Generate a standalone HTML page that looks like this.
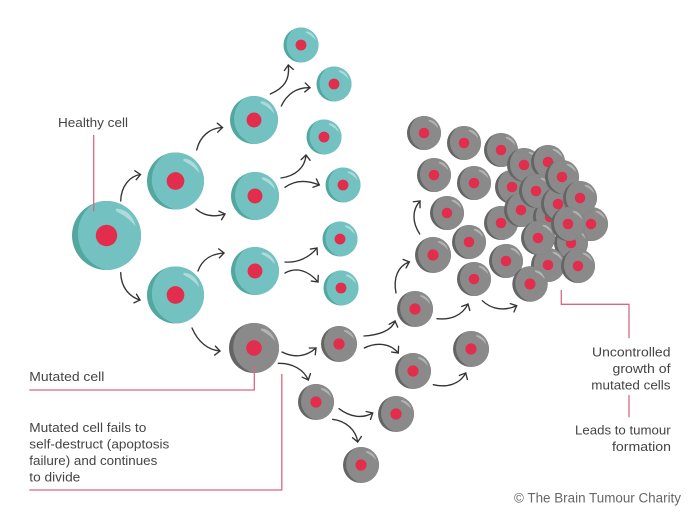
<!DOCTYPE html>
<html><head><meta charset="utf-8"><style>
html,body{margin:0;padding:0;background:#fff}
svg{display:block}
text{font-family:"Liberation Sans",sans-serif;font-size:13px;fill:#444}
.a{fill:none;stroke:#333;stroke-width:1.35;stroke-linecap:round;marker-end:url(#h)}
.p{fill:none;stroke:#d8687f;stroke-width:1.3}
</style></head><body>
<svg width="700" height="520" viewBox="0 0 700 520" xmlns="http://www.w3.org/2000/svg">
<defs>
<marker id="h" markerUnits="userSpaceOnUse" markerWidth="14" markerHeight="14" refX="8" refY="7" orient="auto" overflow="visible">
<path d="M3 2.5L8 7L3 11.5" fill="none" stroke="#333" stroke-width="1.35" stroke-linecap="round"/>
</marker>
<clipPath id="c"><circle r="1"/></clipPath>
<g id="t">
<circle r="1" fill="#52a79f"/>
<circle cx=".25" cy="-.05" r="1.08" fill="#73c2c1" clip-path="url(#c)"/>
<path d="M.28-.78C.6-.78.8-.5.84-.27C.65-.5.45-.62.28-.7Z" fill="#fff" fill-opacity=".42"/>
<circle r=".31" fill="#e32d4c"/>
</g>
<g id="g">
<circle r="1" fill="#656565"/>
<circle cx=".25" cy="-.05" r="1.08" fill="#8a8a8b" clip-path="url(#c)"/>
<path d="M.28-.78C.6-.78.8-.5.84-.27C.65-.5.45-.62.28-.7Z" fill="#fff" fill-opacity=".35"/>
<circle r=".31" fill="#e32d4c"/>
</g>
</defs>

<!-- teal cells -->
<use href="#t" transform="translate(106.5 235.5) scale(34.5)"/>
<use href="#t" transform="translate(175.5 181) scale(28.5)"/>
<use href="#t" transform="translate(175.5 295) scale(28.5)"/>
<use href="#t" transform="translate(254 120) scale(24)"/>
<use href="#t" transform="translate(255 196) scale(24)"/>
<use href="#t" transform="translate(255 271) scale(24)"/>
<use href="#t" transform="translate(301 45) scale(17.5)"/>
<use href="#t" transform="translate(334 84) scale(17.5)"/>
<use href="#t" transform="translate(324 137) scale(17.5)"/>
<use href="#t" transform="translate(343 185) scale(17.5)"/>
<use href="#t" transform="translate(340 239) scale(17.5)"/>
<use href="#t" transform="translate(341 288) scale(17.5)"/>

<!-- gray dividing cells -->
<use href="#g" transform="translate(254 348) scale(25)"/>
<use href="#g" transform="translate(339 344) scale(18)"/>
<use href="#g" transform="translate(415 309) scale(18)"/>
<use href="#g" transform="translate(413 371) scale(18)"/>
<use href="#g" transform="translate(471 349) scale(18)"/>
<use href="#g" transform="translate(396 414) scale(18)"/>
<use href="#g" transform="translate(316 402) scale(18)"/>
<use href="#g" transform="translate(361 465) scale(18)"/>

<!-- tumour cluster -->
<use href="#g" transform="translate(424 133) scale(17)"/>
<use href="#g" transform="translate(464 143) scale(17)"/>
<use href="#g" transform="translate(434 175) scale(17)"/>
<use href="#g" transform="translate(474 183) scale(17)"/>
<use href="#g" transform="translate(447 213) scale(17)"/>
<use href="#g" transform="translate(469 242) scale(17)"/>
<use href="#g" transform="translate(433 255) scale(18)"/>
<use href="#g" transform="translate(474 279) scale(17)"/>
<use href="#g" transform="translate(501 150) scale(17)"/>
<use href="#g" transform="translate(501 223) scale(17)"/>
<use href="#g" transform="translate(506 261) scale(17)"/>
<use href="#g" transform="translate(512 187) scale(17)"/>
<use href="#g" transform="translate(524 165) scale(17)"/>
<use href="#g" transform="translate(548 162) scale(17)"/>
<use href="#g" transform="translate(521 210) scale(17)"/>
<use href="#g" transform="translate(550 217) scale(17)"/>
<use href="#g" transform="translate(536 191) scale(17)"/>
<use href="#g" transform="translate(558 204) scale(17)"/>
<use href="#g" transform="translate(562 177) scale(17)"/>
<use href="#g" transform="translate(591 224) scale(17)"/>
<use href="#g" transform="translate(580 198) scale(17)"/>
<use href="#g" transform="translate(571 243) scale(17)"/>
<use href="#g" transform="translate(548 265) scale(17)"/>
<use href="#g" transform="translate(538 238) scale(17)"/>
<use href="#g" transform="translate(568 224) scale(17)"/>
<use href="#g" transform="translate(578 266) scale(17)"/>
<use href="#g" transform="translate(530 284) scale(17.7)"/>

<!-- arrows -->
<path class="a" d="M120.7 201C121 186 130 176 140.5 174.5"/>
<path class="a" d="M120.7 272.7C121 288 130 297 140 300"/>
<path class="a" d="M196.7 150C200 136 210 128 222.5 127.5"/>
<path class="a" d="M196 209C203 215 212 218 225 214"/>
<path class="a" d="M198 271C202 260 210 254 224 253"/>
<path class="a" d="M192 328C198 342 208 350 220 351"/>
<path class="a" d="M270.3 94C284 88 290 80 288.3 65"/>
<path class="a" d="M281.3 106C287 94 297 87 310 87.7"/>
<path class="a" d="M281 178C295 176 305 168 306 155"/>
<path class="a" d="M285 187.3C295 180 307 180 319.3 185"/>
<path class="a" d="M285 262C297 263 309 258 317 248"/>
<path class="a" d="M285 273C296 267 308 270 318 282"/>
<path class="a" d="M282 352C294 358 306 357 316 348"/>
<path class="a" d="M278.3 363.3C293 363 304 370 308.3 380"/>
<path class="a" d="M364 336C380 335 392 330 395 321"/>
<path class="a" d="M364.3 348C376 342 390 343 398.3 353"/>
<path class="a" d="M433.3 384.7C447 388 460 384 465.7 373"/>
<path class="a" d="M339 408.7C350 417 362 419 372.7 413"/>
<path class="a" d="M332.7 419.3C346 421 356 430 357.7 442"/>
<path class="a" d="M437 318.7C450 320 462 316 468 304"/>
<path class="a" d="M396 293C393 278 398 266 409.3 262"/>
<path class="a" d="M419.7 234C412 222 412 210 420 201"/>
<path class="a" d="M482.3 300.7C492 310 505 311 516.7 305.7"/>

<!-- leader lines -->
<path class="p" d="M93.7 135V211.5"/>
<path class="p" d="M29.3 390H254.3V366"/>
<path class="p" d="M29.3 490H281.8V374"/>
<path class="p" d="M561.3 290V304.3H629V338.3"/>
<path class="p" d="M629 395V417.3"/>

<!-- labels -->
<text x="58" y="127" textLength="70" lengthAdjust="spacingAndGlyphs">Healthy cell</text>
<text x="29.3" y="381" textLength="75" lengthAdjust="spacingAndGlyphs">Mutated cell</text>
<text x="29.3" y="432" textLength="117" lengthAdjust="spacingAndGlyphs">Mutated cell fails to</text>
<text x="29.3" y="448.7" textLength="140" lengthAdjust="spacingAndGlyphs">self-destruct (apoptosis</text>
<text x="29.3" y="465" textLength="128" lengthAdjust="spacingAndGlyphs">failure) and continues</text>
<text x="29.3" y="481.7" textLength="51" lengthAdjust="spacingAndGlyphs">to divide</text>
<text x="592" y="356.7" textLength="78.5" lengthAdjust="spacingAndGlyphs">Uncontrolled</text>
<text x="612.5" y="373" textLength="58" lengthAdjust="spacingAndGlyphs">growth of</text>
<text x="591.3" y="389.5" textLength="79.2" lengthAdjust="spacingAndGlyphs">mutated cells</text>
<text x="575" y="434.7" textLength="95.7" lengthAdjust="spacingAndGlyphs">Leads to tumour</text>
<text x="612" y="451" textLength="59" lengthAdjust="spacingAndGlyphs">formation</text>
<text x="514" y="502.7" textLength="167" lengthAdjust="spacingAndGlyphs" style="fill:#666;font-size:13.5px">© The Brain Tumour Charity</text>
</svg>
</body></html>
